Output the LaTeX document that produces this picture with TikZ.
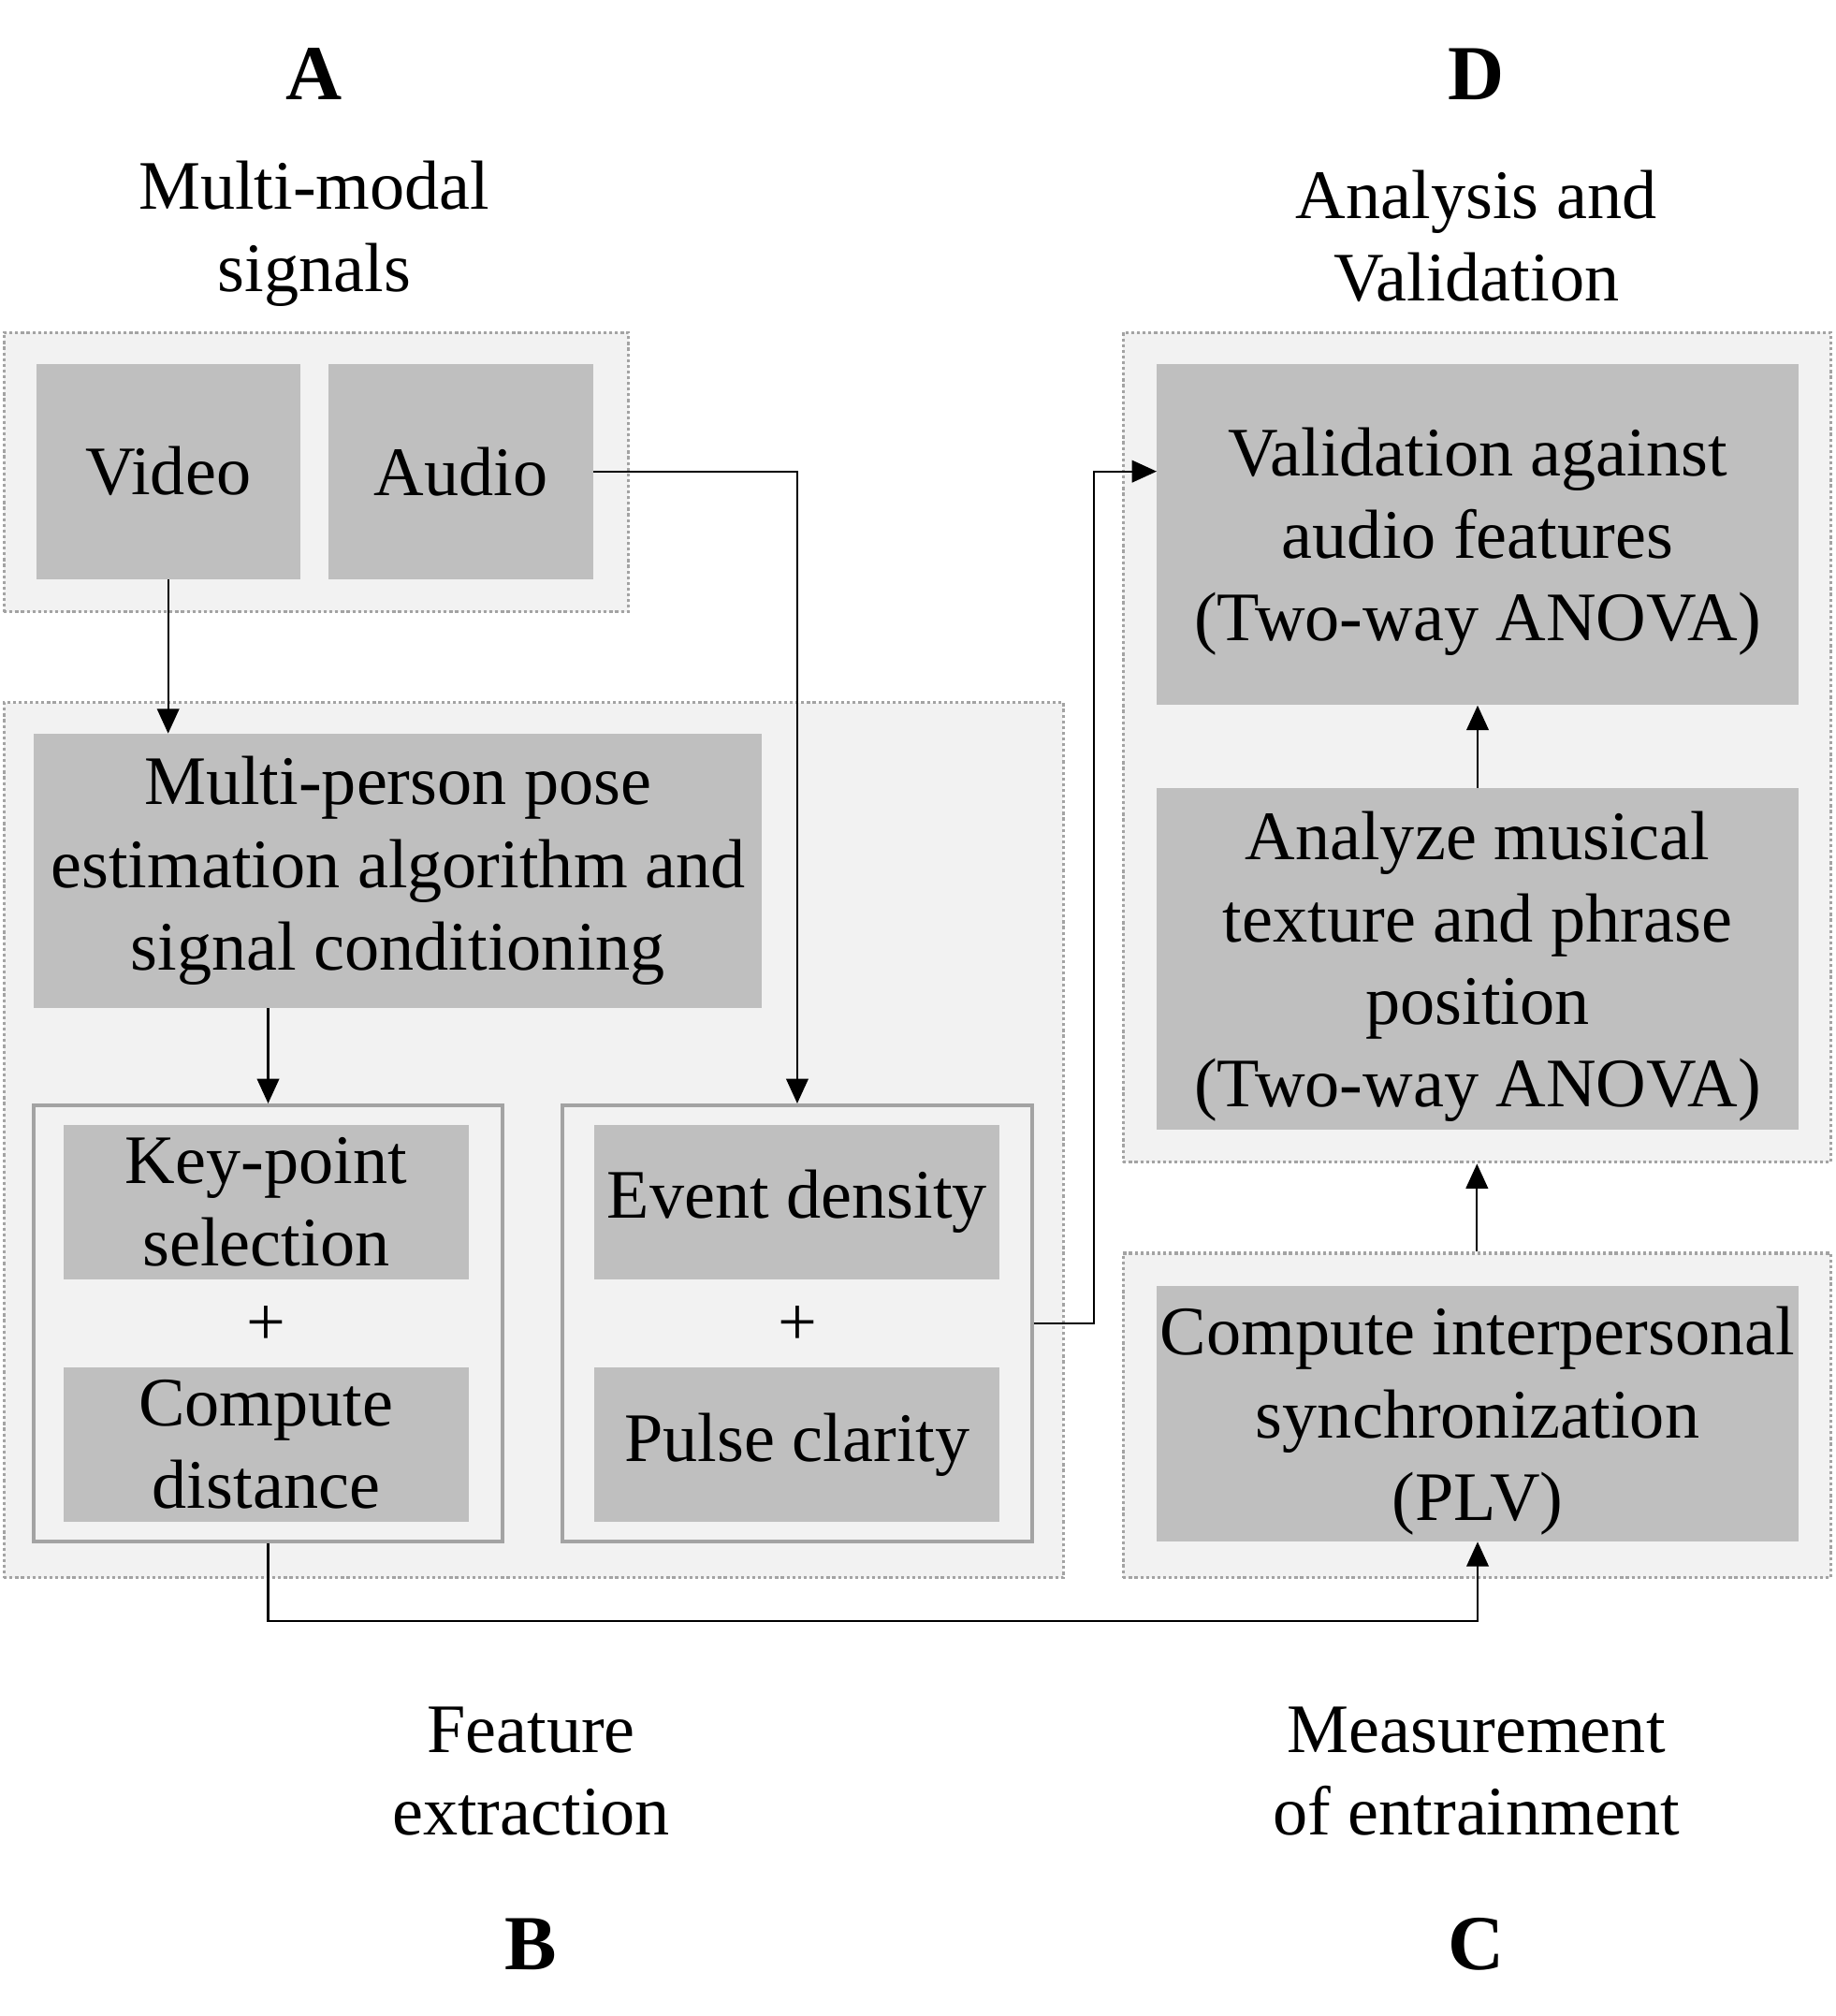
\documentclass[tikz,border=0pt]{standalone}
\usepackage{fontspec}
\setmainfont{Liberation Serif}
\usetikzlibrary{arrows.meta}
\definecolor{panelfill}{HTML}{F2F2F2}
\definecolor{panelline}{HTML}{A3A3A3}
\definecolor{taskfill}{HTML}{BFBFBF}
\newcommand{\bodyfont}{\fontsize{53.5}{63.5}\selectfont}
\newcommand{\letterfont}{\fontsize{60}{70}\selectfont\bfseries}
\tikzstyle{every node}=[inner sep=0pt,align=center,font=\bodyfont]
\tikzstyle{panel}=[draw=panelline,fill=panelfill,line width=2.3pt,dash pattern=on 2.3pt off 2.1pt]
\tikzstyle{group}=[draw=panelline,fill=panelfill,line width=2.6pt]
\tikzstyle{task}=[fill=taskfill]
\tikzstyle{letter}=[font=\letterfont]
\tikzstyle{flow}=[line width=1.5pt,-{Triangle[length=19pt,width=17pt]}]
\begin{document}
\begin{tikzpicture}[x=1pt,y=-1pt]
  \useasboundingbox (0,0) rectangle (1414,1552.4);
  % stage panels
  \node [panel,minimum width=481pt,minimum height=215pt] (panelA) at (243.5,363.5) {};
  \node [panel,minimum width=816pt,minimum height=674pt] (panelB) at (411,878) {};
  \node [panel,minimum width=545pt,minimum height=639pt] (panelD) at (1137.5,575.5) {};
  \node [panel,minimum width=545pt,minimum height=250pt] (panelC) at (1137.5,1090) {};
  % A: signals
  \node [task,minimum width=203pt,minimum height=166pt] (video) at (129.5,363) {Video};
  \node [task,minimum width=204pt,minimum height=166pt] (audio) at (355,363) {Audio};
  % B: features
  \node [task,minimum width=561pt,minimum height=211pt] (pose) at (306.5,670.5)
    {Multi-person pose\\estimation algorithm and\\signal conditioning};
  \node [group,minimum width=361pt,minimum height=336pt] (leftgrp) at (206.5,1019) {};
  \node [group,minimum width=362pt,minimum height=336pt] (rightgrp) at (614,1019) {};
  \node [task,minimum width=312pt,minimum height=119pt] (keypt) at (205,925.5) {Key-point\\selection};
  \node (plusL) at (205,1021) {+};
  \node [task,minimum width=312pt,minimum height=119pt] (dist) at (205,1112.5) {Compute\\distance};
  \node [task,minimum width=312pt,minimum height=119pt] (evden) at (614,925.5) {Event density};
  \node (plusR) at (614,1021) {+};
  \node [task,minimum width=312pt,minimum height=119pt] (pulse) at (614,1112.5) {Pulse clarity};
  % D: analysis
  \node [task,minimum width=494pt,minimum height=263pt,text depth=0pt] (valid) at (1138,411.5)
    {Validation against\\audio features\\(Two-way ANOVA)};
  \node [task,minimum width=494pt,minimum height=263pt,text depth=0pt] (texture) at (1138,738.5)
    {Analyze musical\\texture and phrase\\position\\(Two-way ANOVA)};
  % C: entrainment
  \node [task,minimum width=494pt,minimum height=197pt,text depth=0pt] (plv) at (1138,1088.5)
    {Compute interpersonal\\synchronization\\(PLV)};
  % captions
  \node [letter] (letA) at (242,57) {A};
  \node (capA) at (242,180) {Multi-modal\\signals};
  \node [letter] (letD) at (1137,57) {D};
  \node (capD) at (1137,182) {Analysis and\\Validation};
  \node (capB) at (409,1364) {Feature\\extraction};
  \node [letter] (letB) at (409,1497) {B};
  \node (capC) at (1137,1364) {Measurement\\of entrainment};
  \node [letter] (letC) at (1137,1497) {C};
  % connectors
  \draw [flow] (video.south) -- (video.south |- pose.north);
  \draw [flow] (audio.east) -| (rightgrp.north);
  \draw [flow] (pose.south -| leftgrp.north) -- (leftgrp.north);
  \draw [flow] (rightgrp.east) -- ++(46,0) |- (valid.west |- audio.east);
  \draw [flow] (leftgrp.south) -- ++(0,60) -| (plv.south);
  \draw [flow] (panelC.north) -- (panelD.south);
  \draw [flow] (texture.north) -- (valid.south);
\end{tikzpicture}
\end{document}
